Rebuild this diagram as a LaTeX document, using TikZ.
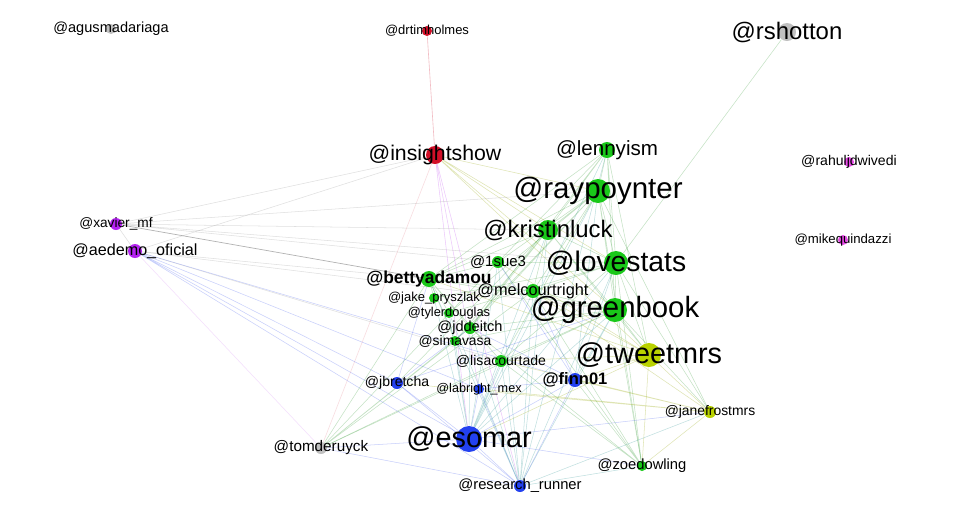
\documentclass[tikz,border=0pt]{standalone}
\usepackage{fontspec}
\setmainfont{Liberation Sans}
\usepackage{xcolor}

\definecolor{ngreen}{RGB}{25,200,25}
\definecolor{nblue}{RGB}{35,65,240}
\definecolor{nred}{RGB}{210,15,40}
\definecolor{npurple}{RGB}{180,35,240}
\definecolor{nmagenta}{RGB}{230,75,230}
\definecolor{ngray}{RGB}{192,192,192}
\definecolor{nolive}{RGB}{185,210,0}

\pgfdeclarelayer{back}
\pgfdeclarelayer{edges}
\pgfsetlayers{back,edges,main}

\begin{document}
\begin{tikzpicture}[
  x=0.02cm, y=-0.02cm,
  dot/.style={circle, inner sep=0pt, minimum size=#1*0.02cm},
  lab/.style={font=\fontsize{#1}{#1}\selectfont, inner sep=0pt},
  blab/.style={font=\bfseries\fontsize{#1}{#1}\selectfont, inner sep=0pt},
  ge/.style={ngreen!70!black, line width=0.3pt, opacity=0.25},
  be/.style={nblue, line width=0.3pt, opacity=0.25},
  te/.style={teal, line width=0.3pt, opacity=0.25},
  pe/.style={npurple, line width=0.3pt, opacity=0.25},
  re/.style={nred!70, line width=0.35pt, opacity=0.4},
  ye/.style={nolive!80!black, line width=0.3pt, opacity=0.3},
  ke/.style={gray, line width=0.3pt, opacity=0.25}
]
  \begin{pgfonlayer}{back}
  \fill[white] (0,0) rectangle (960,512);
  \end{pgfonlayer}
  \useasboundingbox (0,0) rectangle (960,512);

  % nodes
  \node[dot=10, fill=ngray]    (agusmadariaga) at (111,29) {};
  \node[dot=10, fill=nred]     (drtimholmes) at (427,31) {};
  \node[dot=18, fill=ngray]    (rshotton) at (787,32) {};
  \node[dot=18, fill=nred]     (insightshow) at (435,155) {};
  \node[dot=16, fill=ngreen]   (lennyism) at (607,150) {};
  \node[dot=24, fill=ngreen]   (raypoynter) at (598,191) {};
  \node[dot=20, fill=ngreen]   (kristinluck) at (548,230) {};
  \node[dot=10, fill=nmagenta] (rahuljdwivedi) at (849,162) {};
  \node[dot=10, fill=nmagenta] (mikequindazzi) at (843,240) {};
  \node[dot=12, fill=npurple]  (xaviermf) at (116,224) {};
  \node[dot=14, fill=npurple]  (aedemo) at (135,251) {};
  \node[dot=12, fill=ngreen]   (sue) at (498,262) {};
  \node[dot=24, fill=ngreen]   (lovestats) at (616,263) {};
  \node[dot=16, fill=ngreen]   (bettyadamou) at (429,279) {};
  \node[dot=14, fill=ngreen]   (melcourtright) at (533,291) {};
  \node[dot=10, fill=ngreen]   (jake) at (434,298) {};
  \node[dot=24, fill=ngreen]   (greenbook) at (615,310) {};
  \node[dot=10, fill=ngreen]   (tylerdouglas) at (449,313) {};
  \node[dot=12, fill=ngreen]   (jddeitch) at (470,328) {};
  \node[dot=10, fill=ngreen]   (simavasa) at (455,341) {};
  \node[dot=24, fill=nolive]   (tweetmrs) at (649,355) {};
  \node[dot=12, fill=ngreen]   (lisacourtade) at (501,361) {};
  \node[dot=14, fill=nblue]    (finn) at (575,380) {};
  \node[dot=12, fill=nblue]    (jbretcha) at (397,383) {};
  \node[dot=10, fill=nblue]    (labright) at (479,389) {};
  \node[dot=12, fill=nolive]   (janefrostmrs) at (710,412) {};
  \node[dot=26, fill=nblue]    (esomar) at (469,439) {};
  \node[dot=12, fill=ngray]    (tomderuyck) at (321,448) {};
  \node[dot=10, fill=ngreen]   (zoedowling) at (642,466) {};
  \node[dot=12, fill=nblue]    (runner) at (520,486) {};

  % labels
  \node[lab=8.3]  (agusmadariagaL) at (agusmadariaga) {@agusmadariaga};
  \node[lab=7.4]  (drtimholmesL) at (drtimholmes) {@drtimholmes};
  \node[lab=13.6] (rshottonL) at (rshotton) {@rshotton};
  \node[lab=12.1] (insightshowL) at (insightshow) {@insightshow};
  \node[lab=11.7] (lennyismL) at (lennyism) {@lennyism};
  \node[lab=16.8] (raypoynterL) at (raypoynter) {@raypoynter};
  \node[lab=13.6] (kristinluckL) at (kristinluck) {@kristinluck};
  \node[lab=8.0]  (rahuljdwivediL) at (rahuljdwivedi) {@rahuljdwivedi};
  \node[lab=7.5]  (mikequindazziL) at (mikequindazzi) {@mikequindazzi};
  \node[lab=7.8]  (xaviermfL) at (xaviermf) {@xavier\_mf};
  \node[lab=9.2]  (aedemoL) at (aedemo) {@aedemo\_oficial};
  \node[lab=8.5]  (sueL) at (sue) {@1sue3};
  \node[lab=16.1] (lovestatsL) at (lovestats) {@lovestats};
  \node[blab=9.9] (bettyadamouL) at (bettyadamou) {@bettyadamou};
  \node[lab=9.3]  (melcourtrightL) at (melcourtright) {@melcourtright};
  \node[lab=7.4]  (jakeL) at (jake) {@jake\_pryszlak};
  \node[lab=16.7] (greenbookL) at (greenbook) {@greenbook};
  \node[lab=7.3]  (tylerdouglasL) at (tylerdouglas) {@tylerdouglas};
  \node[lab=8.3]  (jddeitchL) at (jddeitch) {@jddeitch};
  \node[lab=7.9]  (simavasaL) at (simavasa) {@simavasa};
  \node[lab=16.4] (tweetmrsL) at (tweetmrs) {@tweetmrs};
  \node[lab=8.0]  (lisacourtadeL) at (lisacourtade) {@lisacourtade};
  \node[blab=9.4] (finnL) at (finn) {@finn01};
  \node[lab=8.0]  (jbretchaL) at (jbretcha) {@jbretcha};
  \node[lab=7.2]  (labrightL) at (labright) {@labright\_mex};
  \node[lab=7.9]  (janefrostmrsL) at (janefrostmrs) {@janefrostmrs};
  \node[lab=16.4] (esomarL) at (esomar) {@esomar};
  \node[lab=8.7]  (tomderuyckL) at (tomderuyck) {@tomderuyck};
  \node[lab=8.4]  (zoedowlingL) at (zoedowling) {@zoedowling};
  \node[lab=8.4]  (runnerL) at (runner) {@research\_runner};

  % edges
  \begin{pgfonlayer}{edges}
  \draw[re] (drtimholmes) -- (insightshow);
  \draw[ge] (rshotton) -- (lovestats);
  \draw[ge] (raypoynter) -- (lennyism) (raypoynter) -- (kristinluck) (raypoynter) -- (lovestats)
            (raypoynter) -- (greenbook) (raypoynter) -- (bettyadamou) (raypoynter) -- (melcourtright)
            (raypoynter) -- (sue) (raypoynter) -- (jddeitch) (raypoynter) -- (lisacourtade)
            (raypoynter) -- (zoedowling) (raypoynter) -- (tylerdouglas) (raypoynter) -- (simavasa)
            (raypoynter) -- (janefrostmrs);
  \draw[te] (raypoynter) -- (esomar) (raypoynter) -- (finn);
  \draw[ge] (lennyism) -- (kristinluck) (lennyism) -- (lovestats) (lennyism) -- (greenbook)
            (lennyism) -- (sue) (lennyism) -- (jddeitch) (lennyism) -- (bettyadamou)
            (lennyism) -- (tweetmrs);
  \draw[te] (lennyism) -- (esomar) (lennyism) -- (runner);
  \draw[ge] (kristinluck) -- (lovestats) (kristinluck) -- (greenbook) (kristinluck) -- (bettyadamou)
            (kristinluck) -- (simavasa) (kristinluck) -- (jddeitch) (kristinluck) -- (melcourtright)
            (kristinluck) -- (tweetmrs) (kristinluck) -- (jbretcha);
  \draw[te] (kristinluck) -- (esomar) (kristinluck) -- (runner);
  \draw[ge] (lovestats) -- (greenbook) (lovestats) -- (tweetmrs) (lovestats) -- (sue)
            (lovestats) -- (melcourtright) (lovestats) -- (jake) (lovestats) -- (tylerdouglas)
            (lovestats) -- (lisacourtade) (lovestats) -- (zoedowling) (lovestats) -- (janefrostmrs);
  \draw[te] (lovestats) -- (esomar) (lovestats) -- (runner) (lovestats) -- (finn);
  \draw[ge] (greenbook) -- (tweetmrs) (greenbook) -- (bettyadamou) (greenbook) -- (melcourtright)
            (greenbook) -- (jddeitch) (greenbook) -- (lisacourtade) (greenbook) -- (zoedowling)
            (greenbook) -- (tomderuyck) (greenbook) -- (janefrostmrs) (greenbook) -- (simavasa);
  \draw[te] (greenbook) -- (esomar) (greenbook) -- (runner) (greenbook) -- (finn);
  \draw[ye] (tweetmrs) -- (janefrostmrs) (tweetmrs) -- (zoedowling) (tweetmrs) -- (finn)
            (tweetmrs) -- (lisacourtade) (tweetmrs) -- (melcourtright) (tweetmrs) -- (sue)
            (tweetmrs) -- (bettyadamou) (tweetmrs) -- (esomar);
  \draw[re, opacity=0.2] (insightshow) -- (tomderuyck);
  \draw[pe] (insightshow) -- (esomar) (insightshow) -- (labright) (insightshow) -- (runner);
  \draw[ye] (insightshow) -- (greenbook) (insightshow) -- (lovestats) (insightshow) -- (tweetmrs)
            (insightshow) -- (raypoynter) (insightshow) -- (kristinluck);
  \draw[ke] (insightshow) -- (xaviermf) (insightshow) -- (aedemo);
  \draw[gray, line width=0.4pt, opacity=0.6] (xaviermf) -- (bettyadamou);
  \draw[ke] (xaviermf) -- (raypoynter) (xaviermf) -- (kristinluck) (xaviermf) -- (lovestats)
            (xaviermf) -- (sue) (xaviermf) -- (aedemo) (aedemo) -- (bettyadamou)
            (aedemo) -- (greenbook) (aedemo) -- (lisacourtade);
  \draw[be] (aedemo) -- (esomar) (aedemo) -- (jbretcha) (aedemo) -- (runner)
            (aedemo) -- (labright) (aedemo) -- (finn);
  \draw[pe, opacity=0.15] (aedemo) -- (tomderuyck);
  \draw[be] (esomar) -- (jbretcha) (esomar) -- (labright) (esomar) -- (finn) (esomar) -- (runner)
            (esomar) -- (tomderuyck) (esomar) -- (janefrostmrs) (esomar) -- (zoedowling);
  \draw[te] (esomar) -- (lisacourtade) (esomar) -- (jddeitch) (esomar) -- (simavasa)
            (esomar) -- (tylerdouglas) (esomar) -- (sue) (esomar) -- (melcourtright) (esomar) -- (jake);
  \draw[be] (runner) -- (finn) (runner) -- (labright) (runner) -- (tomderuyck);
  \draw[te] (runner) -- (jddeitch) (runner) -- (lisacourtade) (runner) -- (sue)
            (runner) -- (melcourtright) (runner) -- (tylerdouglas) (runner) -- (bettyadamou)
            (runner) -- (janefrostmrs) (runner) -- (zoedowling);
  \draw[ge] (tomderuyck) -- (bettyadamou) (tomderuyck) -- (jddeitch) (tomderuyck) -- (simavasa)
            (tomderuyck) -- (lisacourtade) (tomderuyck) -- (melcourtright) (tomderuyck) -- (sue);
  \draw[ye] (janefrostmrs) -- (lisacourtade) (janefrostmrs) -- (finn) (janefrostmrs) -- (labright)
            (janefrostmrs) -- (jbretcha) (janefrostmrs) -- (melcourtright) (janefrostmrs) -- (zoedowling);
  \draw[ge] (zoedowling) -- (melcourtright) (zoedowling) -- (sue) (zoedowling) -- (jddeitch)
            (zoedowling) -- (finn) (zoedowling) -- (lisacourtade);
  \draw[be] (jbretcha) -- (bettyadamou) (jbretcha) -- (jddeitch) (jbretcha) -- (greenbook)
            (jbretcha) -- (runner);
  \draw[be] (finn) -- (labright) (finn) -- (melcourtright) (finn) -- (sue) (finn) -- (jddeitch);
  \draw[ge] (bettyadamou) -- (sue) (bettyadamou) -- (melcourtright) (bettyadamou) -- (jake)
            (bettyadamou) -- (tylerdouglas) (bettyadamou) -- (jddeitch) (bettyadamou) -- (simavasa)
            (bettyadamou) -- (lisacourtade);
  \end{pgfonlayer}
\end{tikzpicture}
\end{document}
